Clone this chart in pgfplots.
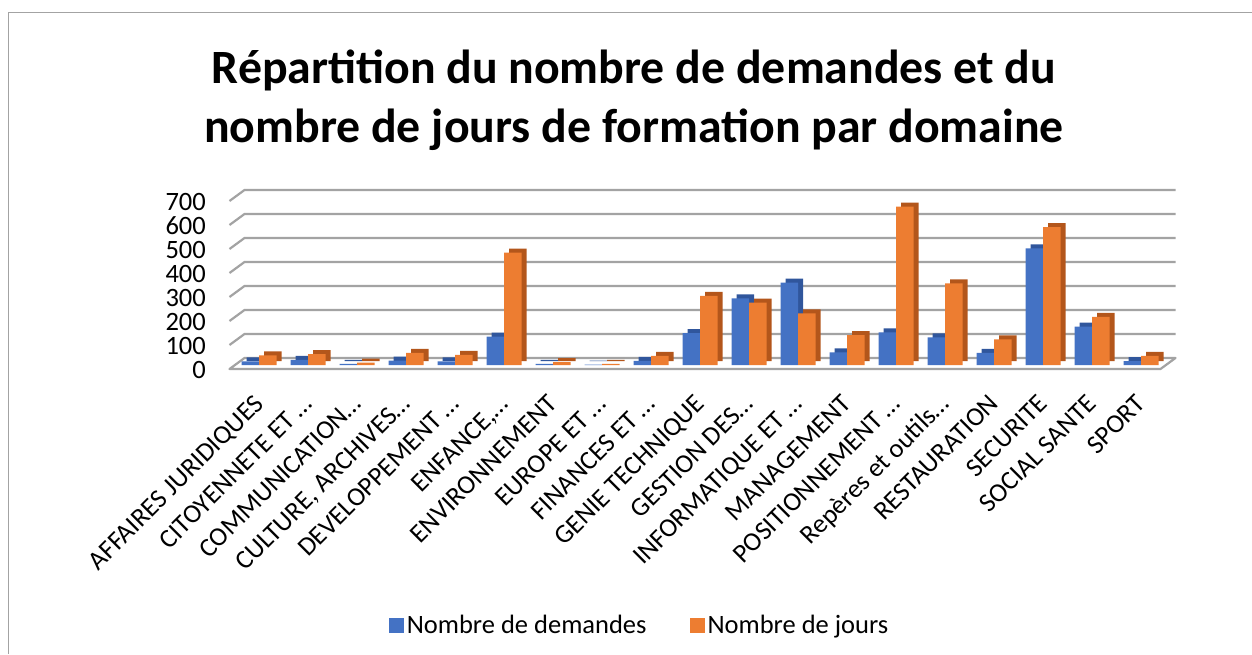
\documentclass[border=0pt]{standalone}
\usepackage{fontspec}
\setmainfont{Carlito}
\usepackage{pgfplots}
\usepackage{pgfplotstable}
\pgfplotsset{compat=1.18}
\definecolor{cblue}{HTML}{4472C4}
\definecolor{cbluedk}{HTML}{30569C}
\definecolor{corange}{HTML}{ED7D31}
\definecolor{corangedk}{HTML}{B3561B}
\definecolor{cgrid}{HTML}{A3A3A3}
\pgfplotstableread{
i d j
0 15 40
1 21 45
2 5 10
3 18 51
4 15 42
5 118 468
6 5 12
7 2 5
8 17 38
9 133 288
10 278 260
11 343 215
12 53 124
13 136 660
14 115 340
15 51 107
16 486 574
17 160 201
18 16 38
}\data
\begin{document}
\begin{tikzpicture}[x=1pt,y=1pt]
\useasboundingbox (0,0) rectangle (1252,654);
\draw[cgrid, line width=1.5pt] (8.3,0) -- (8.3,641.7) -- (1252,641.7);
\node[anchor=base, font=\fontsize{47.8}{56}\selectfont\bfseries, inner sep=0pt] at (634,570) {Répartition du nombre de demandes et du};
\node[anchor=base, font=\fontsize{47.8}{56}\selectfont\bfseries, inner sep=0pt] at (634,511) {nombre de jours de formation par domaine};
\begin{axis}[
  at={(234.5pt,289pt)}, anchor=south west, scale only axis,
  width=931pt, height=168pt,
  xmin=-0.5, xmax=18.5, ymin=0, ymax=700,
  clip=false,
  axis line style={draw=none},
  tick style={draw=none},
  ytick={0,100,...,700},
  xtick={0,...,18},
  xticklabels={AFFAIRES JURIDIQUES, CITOYENNETE ET …, COMMUNICATION…, {CULTURE, ARCHIVES…}, DEVELOPPEMENT …, {ENFANCE,…}, ENVIRONNEMENT, EUROPE ET …, FINANCES ET …, GENIE TECHNIQUE, GESTION DES…, INFORMATIQUE ET …, MANAGEMENT, POSITIONNEMENT …, Repères et outils…, RESTAURATION, SECURITE, SOCIAL SANTE, SPORT},
  /pgf/number format/assume math mode=true,
  tick label style={font=\fontsize{26.5}{30}\selectfont},
  xticklabel style={xshift=6pt, yshift=-36pt, rotate=45, anchor=base east, inner sep=0pt},
  yticklabel style={anchor=east, inner sep=0pt, xshift=-28.5pt, yshift=-5pt},
  ybar, bar width=17.5pt,
  legend columns=2,
  legend style={at={(0.4356,-1.548)}, anchor=center, draw=none, fill=none,
    font=\fontsize{26.5}{30}\selectfont, nodes={inner sep=3pt},
    /tikz/every even column/.append style={column sep=40pt}},
  legend image code/.code={\fill[#1] (0pt,-7.5pt) rectangle (15pt,7.5pt);},
]
\pgfplotsinvokeforeach{100,200,300,400,500,600,700}{
  \draw[cgrid, line width=2.2pt] ([xshift=-5pt,yshift=-4pt]axis cs:-0.5,#1) -- ([xshift=10pt,yshift=7pt]axis cs:-0.5,#1) -- ([xshift=10pt,yshift=7pt]axis cs:18.5,#1);
}
\draw[cgrid, line width=2.2pt, fill=white, line join=round] ([xshift=-5pt,yshift=-4pt]axis cs:-0.5,0) -- ([xshift=-5pt,yshift=-4pt]axis cs:18.5,0) -- ([xshift=10pt,yshift=7pt]axis cs:18.5,0) -- ([xshift=10pt,yshift=7pt]axis cs:-0.5,0) -- cycle;
\addplot[fill=cbluedk, draw=none, bar shift=-8.75pt, xshift=5pt, yshift=4pt, forget plot] table[x=i,y=d] {\data};
\addplot[fill=cblue, draw=none, bar shift=-8.75pt] table[x=i,y=d] {\data};
\addplot[fill=corangedk, draw=none, bar shift=8.75pt, xshift=5pt, yshift=4pt, forget plot] table[x=i,y=j] {\data};
\addplot[fill=corange, draw=none, bar shift=8.75pt] table[x=i,y=j] {\data};
\legend{Nombre de demandes, Nombre de jours}
\end{axis}
\end{tikzpicture}
\end{document}
